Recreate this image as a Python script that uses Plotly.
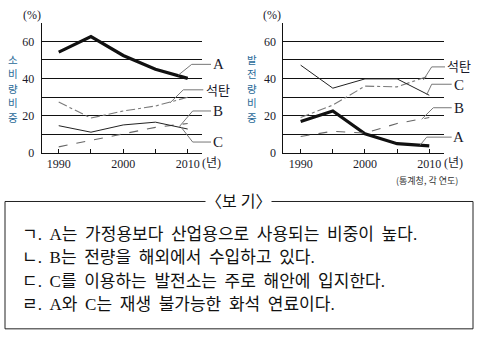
import plotly.graph_objects as go

years = [1990, 1995, 2000, 2005, 2010]

# 소비량 비중 (consumption share, %)
cons_A = [54.2, 62.6, 52.4, 45.0, 40.1]
cons_coal = [27.3, 18.7, 22.5, 25.2, 29.9]
cons_B = [3.2, 6.7, 10.2, 13.7, 15.8]
cons_C = [14.6, 11.1, 15.0, 16.5, 12.8]

# 발전량 비중 (generation share, %)
gen_A = [16.9, 22.5, 10.2, 4.9, 3.7]
gen_coal = [19.0, 25.7, 35.9, 35.5, 41.5]
gen_B = [8.8, 11.6, 10.6, 15.8, 19.0]
gen_C = [47.2, 34.8, 39.8, 39.8, 31.0]

yticks = [0, 10, 20, 30, 40, 50, 60, 70]
ytext = ["0", "", "20", "", "40", "", "60", ""]
xticks = [1990, 1995, 2000, 2005, 2010]
xtext = ["1990", "", "2000", "", "2010"]

bogi_lines = [
    "ㄱ. A는 가정용보다 산업용으로 사용되는 비중이 높다.",
    "ㄴ. B는 전량을 해외에서 수입하고 있다.",
    "ㄷ. C를 이용하는 발전소는 주로 해안에 입지한다.",
    "ㄹ. A와 C는 재생 불가능한 화석 연료이다.",
]

W, H = 477, 342
FONT = "Liberation Serif, Noto Sans CJK KR, serif"
SANS = "Noto Sans CJK KR, sans-serif"


def px(x):
    return x / W


def py(y):
    return 1 - y / H


fig = go.Figure()

styles = [
    ("A", dict(color="#111111", width=3.2)),
    ("coal", dict(color="#7a7a7a", width=1.1, dash="dashdot")),
    ("B", dict(color="#666666", width=1.1, dash="dash")),
    ("C", dict(color="#222222", width=1.0)),
]
left = {"A": cons_A, "coal": cons_coal, "B": cons_B, "C": cons_C}
right = {"A": gen_A, "coal": gen_coal, "B": gen_B, "C": gen_C}

for key, line in styles:
    fig.add_trace(go.Scatter(x=years, y=left[key], mode="lines", line=line,
                             xaxis="x", yaxis="y", showlegend=False))
    fig.add_trace(go.Scatter(x=years, y=right[key], mode="lines", line=line,
                             xaxis="x2", yaxis="y2", showlegend=False))

ydom = [py(156), py(23.3)]
xa = dict(range=[1987.36, 2012.22], tickvals=xticks, ticktext=xtext,
          ticks="inside", ticklen=4, tickcolor="#111", tickwidth=1,
          showline=True, linecolor="#111", linewidth=1, showgrid=False,
          zeroline=False, tickfont=dict(family=FONT, size=12, color="#1a1a2a"))
ya = dict(range=[0, 70], tickvals=yticks, ticktext=ytext, showgrid=True,
          gridcolor="#111", gridwidth=1, showline=True, linecolor="#111",
          linewidth=1, zeroline=False, ticks="", ticklabelstandoff=4,
          tickfont=dict(family=FONT, size=12, color="#1a1a2a"))

fig.update_layout(
    width=W, height=H, autosize=False,
    margin=dict(l=0, r=0, t=0, b=0),
    paper_bgcolor="white", plot_bgcolor="white",
    xaxis=dict(xa, domain=[px(41.7), px(202)], anchor="y"),
    yaxis=dict(ya, domain=ydom, anchor="x"),
    xaxis2=dict(xa, domain=[px(283.3), px(444)], anchor="y2", range=[1987.3, 2012.29]),
    yaxis2=dict(ya, domain=ydom, anchor="x2"),
)

anns = []
shapes = []


def note(x, y, text, family=FONT, size=12, color="#1a1a2a", xanchor="center", **kw):
    anns.append(dict(x=px(x), y=py(y), xref="paper", yref="paper", text=text,
                     showarrow=False, xanchor=xanchor, yanchor="middle",
                     font=dict(family=family, size=size, color=color), **kw))


# (%) and (년)
for x0 in (32, 272):
    note(x0, 15, "(%)")
for x0 in (200, 442):
    note(x0, 166, "(년)", xanchor="left")

# vertical y titles (stacked characters)
char_y = [60.5, 75.5, 90.5, 104.5, 119.5]
for x0, title in ((12.5, "소비량비중"), (252.5, "발전량비중")):
    for ch, yy in zip(title, char_y):
        note(x0, yy, ch, family=SANS, size=10.5, color="#2a6a98")

# series labels with connectors
conn = "#777777"
left_labels = [
    ("A", 65.5, [(178.3, 76.7), (191.7, 65.7), (211, 65.7)], 218),
    ("석탄", 91, [(170, 105), (183.3, 91.7), (203.3, 91.7)], 218),
    ("B", 113.3, [(179.3, 129.3), (192.7, 113.3), (211, 113.3)], 218),
    ("C", 145, [(180.7, 129.3), (192.7, 145), (211, 145)], 218),
]
right_labels = [
    ("석탄", 67, [(423.3, 81.7), (431.7, 68.3), (445, 68.3)], 458.5),
    ("C", 86.5, [(426.7, 96.7), (431.7, 86), (451.7, 86)], 458.5),
    ("B", 110, [(421.7, 121.7), (433.3, 110), (451.7, 110)], 458.5),
    ("A", 140, [(420, 148.3), (426.7, 140), (451.7, 140)], 458.5),
]
for lab, ly, pts, lx in left_labels + right_labels:
    path = "M " + " L ".join(f"{px(a)},{py(b)}" for a, b in pts)
    shapes.append(dict(type="path", path=path, xref="paper", yref="paper",
                       line=dict(color=conn, width=1)))
    if lab == "석탄":
        note(lx, ly, lab, family=SANS, size=13)
    else:
        note(lx, ly, lab, family=FONT, size=15)

# source
note(427, 184, "(통계청, 각 연도)", family=SANS, size=9, color="#333")

# 보기 box
shapes.append(dict(type="rect", xref="paper", yref="paper", x0=px(5), x1=px(473),
                   y0=py(335.7), y1=py(205.7), line=dict(color="#222", width=1)))
note(238, 205.7, "〈보 기〉", size=16, color="#111", bgcolor="white", borderpad=0)
for i, txt in enumerate(bogi_lines):
    note(20, 239 + i * 24, txt.replace(" ", "\u00a0\u2009"), size=17, color="#111",
         xanchor="left")

fig.update_layout(annotations=anns, shapes=shapes)
fig.write_html("out.html")
